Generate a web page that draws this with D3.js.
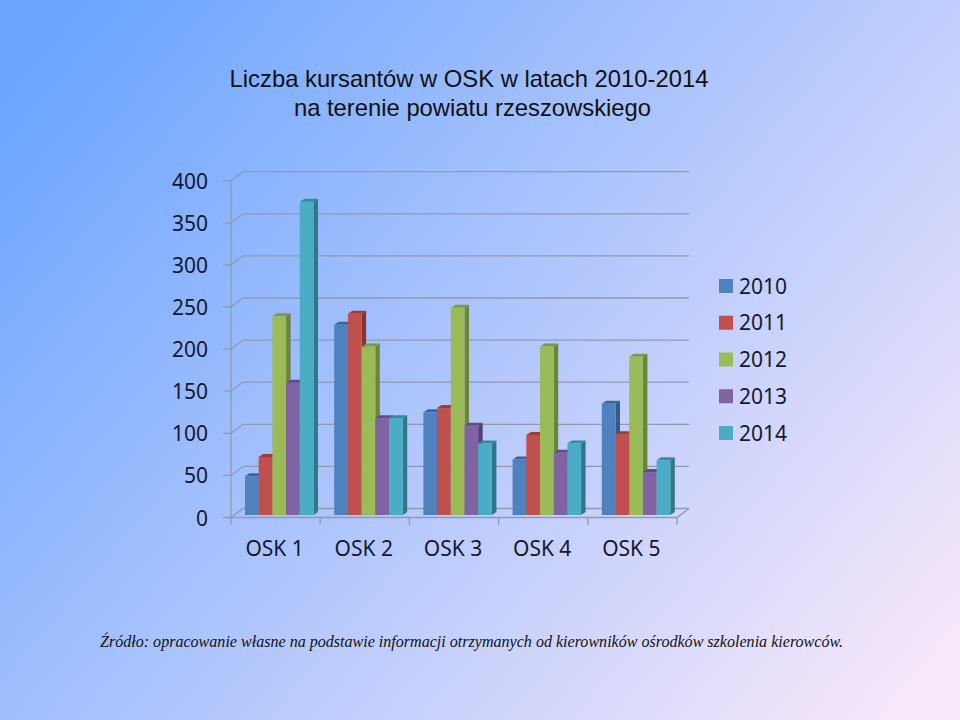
<!DOCTYPE html>
<html><head><meta charset="utf-8"><style>html,body{margin:0;padding:0;background:#fff}svg{display:block}</style>
<script src="https://cdn.jsdelivr.net/npm/d3@7"></script></head><body><div id="c"></div>
<script>
const categories=["OSK 1","OSK 2","OSK 3","OSK 4","OSK 5"];
const years=["2010","2011","2012","2013","2014"];
const v2010=[46,226,122,66,132];
const v2011=[69,239,127,95,96];
const v2012=[236,200,246,200,188];
const v2013=[157,115,106,74,51];
const v2014=[372,115,85,85,65];
const seriesValues=[v2010,v2011,v2012,v2013,v2014];
const frontColors=["#4f81bd","#c0504d","#9bbb59","#8064a2","#4bacc6"];
const topColors=["#3d659a","#9d3d3a","#7d9a42","#64498a","#37899f"];
const sideColors=["#375a85","#8a3431","#6c8539","#563f72","#2f7789"];
const yTicks=[0,50,100,150,200,250,300,350,400];
const titleLines=["Liczba kursantów w OSK w latach 2010-2014","na terenie powiatu rzeszowskiego"];
const footnote="Źródło: opracowanie własne na podstawie informacji otrzymanych od kierowników ośrodków szkolenia kierowców.";

const svg=d3.select("#c").append("svg").attr("width",960).attr("height",720);
const defs=svg.append("defs");
const g=defs.append("linearGradient").attr("id","bg").attr("gradientUnits","userSpaceOnUse")
 .attr("x1",60).attr("y1",0).attr("x2",900).attr("y2",720);
[[0,"#69a4ff"],[0.5,"#b0c6fd"],[1,"#f8e8fa"]].forEach(d=>g.append("stop").attr("offset",d[0]).attr("stop-color",d[1]));
svg.append("rect").attr("width",960).attr("height",720).attr("fill","url(#bg)");

const title=svg.append("text").attr("font-family","'Liberation Sans',Arial,sans-serif").attr("font-size",23.8).attr("fill","#111").attr("text-anchor","middle");
title.selectAll("tspan").data(titleLines).join("tspan").attr("x",(d,i)=>i?472.5:469).attr("y",(d,i)=>i?116:87).text(d=>d);

const y=d3.scaleLinear().domain([0,400]).range([517.5,180.7]);
const x0=d3.scaleBand().domain(categories).range([231,677]);
const x1=d3.scaleBand().domain(years).range([14,82.5]);
const dx=12,dy=9,gridCol="#8f9bad";
const back=svg.append("g").attr("fill","none").attr("stroke",gridCol).attr("stroke-width",1.3);
yTicks.forEach(t=>{
  back.append("path").attr("d",`M223,${y(t)}H231L${231+dx},${y(t)-dy}H689`);
});
back.append("path").attr("d",`M231,${y(400)}V525`);
back.append("path").attr("d",`M231,${y(0)}H677L689,${y(0)-dy}`);
categories.forEach(c=>back.append("path").attr("d",`M${x0(c)+x0.bandwidth()},${y(0)}V525`));

const dep=4.5,ris=3,base=2.5;
const bars=svg.append("g");
categories.forEach((c,i)=>{
  years.forEach((yr,s)=>{
    const val=seriesValues[s][i];
    const l=x0(c)+x1(yr),w=x1.bandwidth(),r=l+w,t=y(val)-base,b=y(0)-base;
    bars.append("path").attr("fill",sideColors[s]).attr("d",`M${r},${t}L${r+dep},${t-ris}V${b-ris}L${r},${b}Z`);
    bars.append("path").attr("fill",topColors[s]).attr("d",`M${l},${t}L${l+dep},${t-ris}H${r+dep}L${r},${t}Z`);
    bars.append("rect").attr("fill",frontColors[s]).attr("x",l).attr("y",t).attr("width",w).attr("height",b-t);
  });
});

const labelFont="'Noto Sans','Open Sans',sans-serif",ink="#14182e",fs=21;
svg.append("g").selectAll("text").data(yTicks).join("text").attr("x",208).attr("y",d=>y(d)+8)
 .attr("text-anchor","end").attr("font-family",labelFont).attr("font-size",fs).attr("fill",ink).text(d=>d);
svg.append("g").selectAll("text").data(categories).join("text").attr("x",d=>x0(d)+x0.bandwidth()/2-1).attr("y",556)
 .attr("text-anchor","middle").attr("font-family",labelFont).attr("font-size",fs).attr("fill",ink).text(d=>d);

const ly=d3.scalePoint().domain(years).range([286,433]);
const leg=svg.append("g");
years.forEach((yr,s)=>{
  leg.append("rect").attr("x",719).attr("y",ly(yr)-7).attr("width",14).attr("height",14).attr("fill",frontColors[s]);
  leg.append("text").attr("x",739).attr("y",ly(yr)+7.5).attr("font-family",labelFont).attr("font-size",fs).attr("fill",ink).text(yr);
});
svg.append("text").attr("x",100).attr("y",647).attr("font-family","'Liberation Serif',serif").attr("font-style","italic")
 .attr("font-size",16.07).attr("fill","#111").text(footnote);
</script></body></html>
